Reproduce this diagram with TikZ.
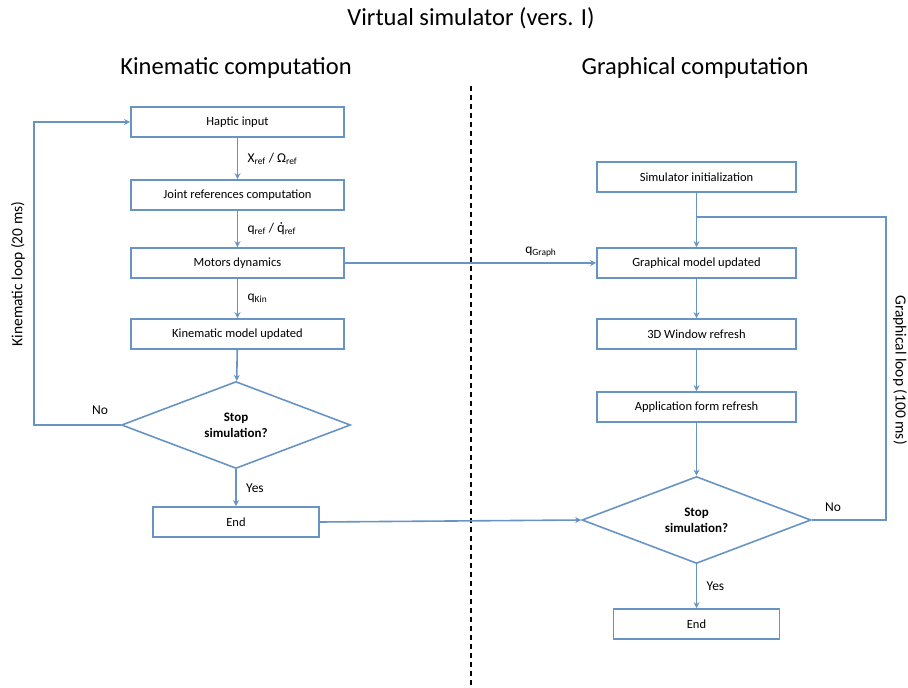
\documentclass[tikz,border=0pt]{standalone}
\usepackage{fontspec}
\setmainfont{Carlito}
\newfontfamily\latofont{Lato}
\usetikzlibrary{shapes.geometric,arrows.meta}
\definecolor{lineblue}{RGB}{104,148,196}
\begin{document}
\begin{tikzpicture}[x=1pt,y=-1pt,
  line width=1.6pt,
  box/.style={draw=lineblue,fill=white,minimum height=30pt,inner sep=0pt,font=\fontsize{12.5}{14}\selectfont},
  lbox/.style={box,minimum width=213pt},
  rbox/.style={box,minimum width=199pt},
  dec/.style={draw=lineblue,fill=white,diamond,aspect=2.63,minimum width=229pt,minimum height=87pt,inner sep=0pt,align=center,font=\fontsize{13}{16}\selectfont\bfseries},
  conn/.style={draw=lineblue,-{Stealth[length=6pt,width=6pt]}},
  plain/.style={draw=lineblue},
  lab/.style={font=\fontsize{13.5}{15}\selectfont},
  looplab/.style={font=\fontsize{15.5}{17}\selectfont},
  head/.style={font=\fontsize{24.5}{27}\selectfont}]
\useasboundingbox (0,0) rectangle (908,688);
\node[head] (title) at (471,18) {Virtual simulator (vers. I)};
\node[head] (hk) at (236,68) {Kinematic computation};
\node[head] (hg) at (695,68) {Graphical computation};
\coordinate (dtop) at (471,86);
\coordinate (dbot) at (471,688);
\draw[black,line width=1.2pt,dash pattern=on 5pt off 4pt] (dtop) -- (dbot);

% left column
\node[lbox] (hap) at (237.5,122) {Haptic input};
\node[lbox] (joint) at (237.5,195) {Joint references computation};
\node[lbox] (mot) at (237.5,263) {Motors dynamics};
\node[lbox] (kin) at (237.5,334) {Kinematic model updated};
\node[dec] (stop1) at (236,425) {Stop\\simulation?};
\node[box,minimum width=166pt] (end1) at (236,522) {End};

\draw[conn] (hap) -- (joint) node[midway,right=6pt,lab] {X\textsubscript{ref} / Ω\textsubscript{ref}};
\draw[conn] (joint) -- (mot) node[midway,right=6pt,lab] {q\textsubscript{ref} / {\latofont q̇}\textsubscript{ref}};
\draw[conn] (mot) -- (kin) node[midway,right=6pt,lab] {q\textsubscript{Kin}};
\draw[conn] (kin) -- (stop1);
\draw[conn] (stop1) -- (end1) node[midway,right=6pt,lab] {Yes};
\coordinate (lk1) at (34,425);
\coordinate (lk2) at (34,122);
\draw[conn] (stop1.west) -- (lk1) -- (lk2) -- (hap.west);
\node[lab] (no1) at (100,410) {No};
\node[looplab,rotate=90] (kloop) at (18,274) {Kinematic loop (20 ms)};

% right column
\node[rbox] (init) at (696.5,177) {Simulator initialization};
\node[rbox] (gm) at (696.5,263) {Graphical model updated};
\node[rbox] (win) at (696.5,334) {3D Window refresh};
\node[rbox] (app) at (696.5,407) {Application form refresh};
\node[dec] (stop2) at (696.5,520) {Stop\\simulation?};
\node[box,minimum width=166pt] (end2) at (696.5,624) {End};

\draw[conn] (init) -- (gm);
\draw[conn] (gm) -- (win);
\draw[conn] (win) -- (app);
\draw[conn] (app) -- (stop2);
\draw[conn] (stop2) -- (end2) node[midway,right=6pt,lab] {Yes};
\coordinate (gl1) at (886,520);
\coordinate (gl2) at (886,217);
\coordinate (gl3) at (696.5,217);
\draw[plain] (stop2.east) -- (gl1) -- (gl2) -- (gl3);
\node[lab] (no2) at (833,507) {No};
\node[looplab,rotate=-90] (gloop) at (900,370) {Graphical loop (100 ms)};

% cross connections
\draw[conn] (mot.east) -- (gm.west) node[pos=0.78,above=2pt,lab] {q\textsubscript{Graph}};
\draw[conn] (end1.east) -- (stop2.west);
\end{tikzpicture}
\end{document}
